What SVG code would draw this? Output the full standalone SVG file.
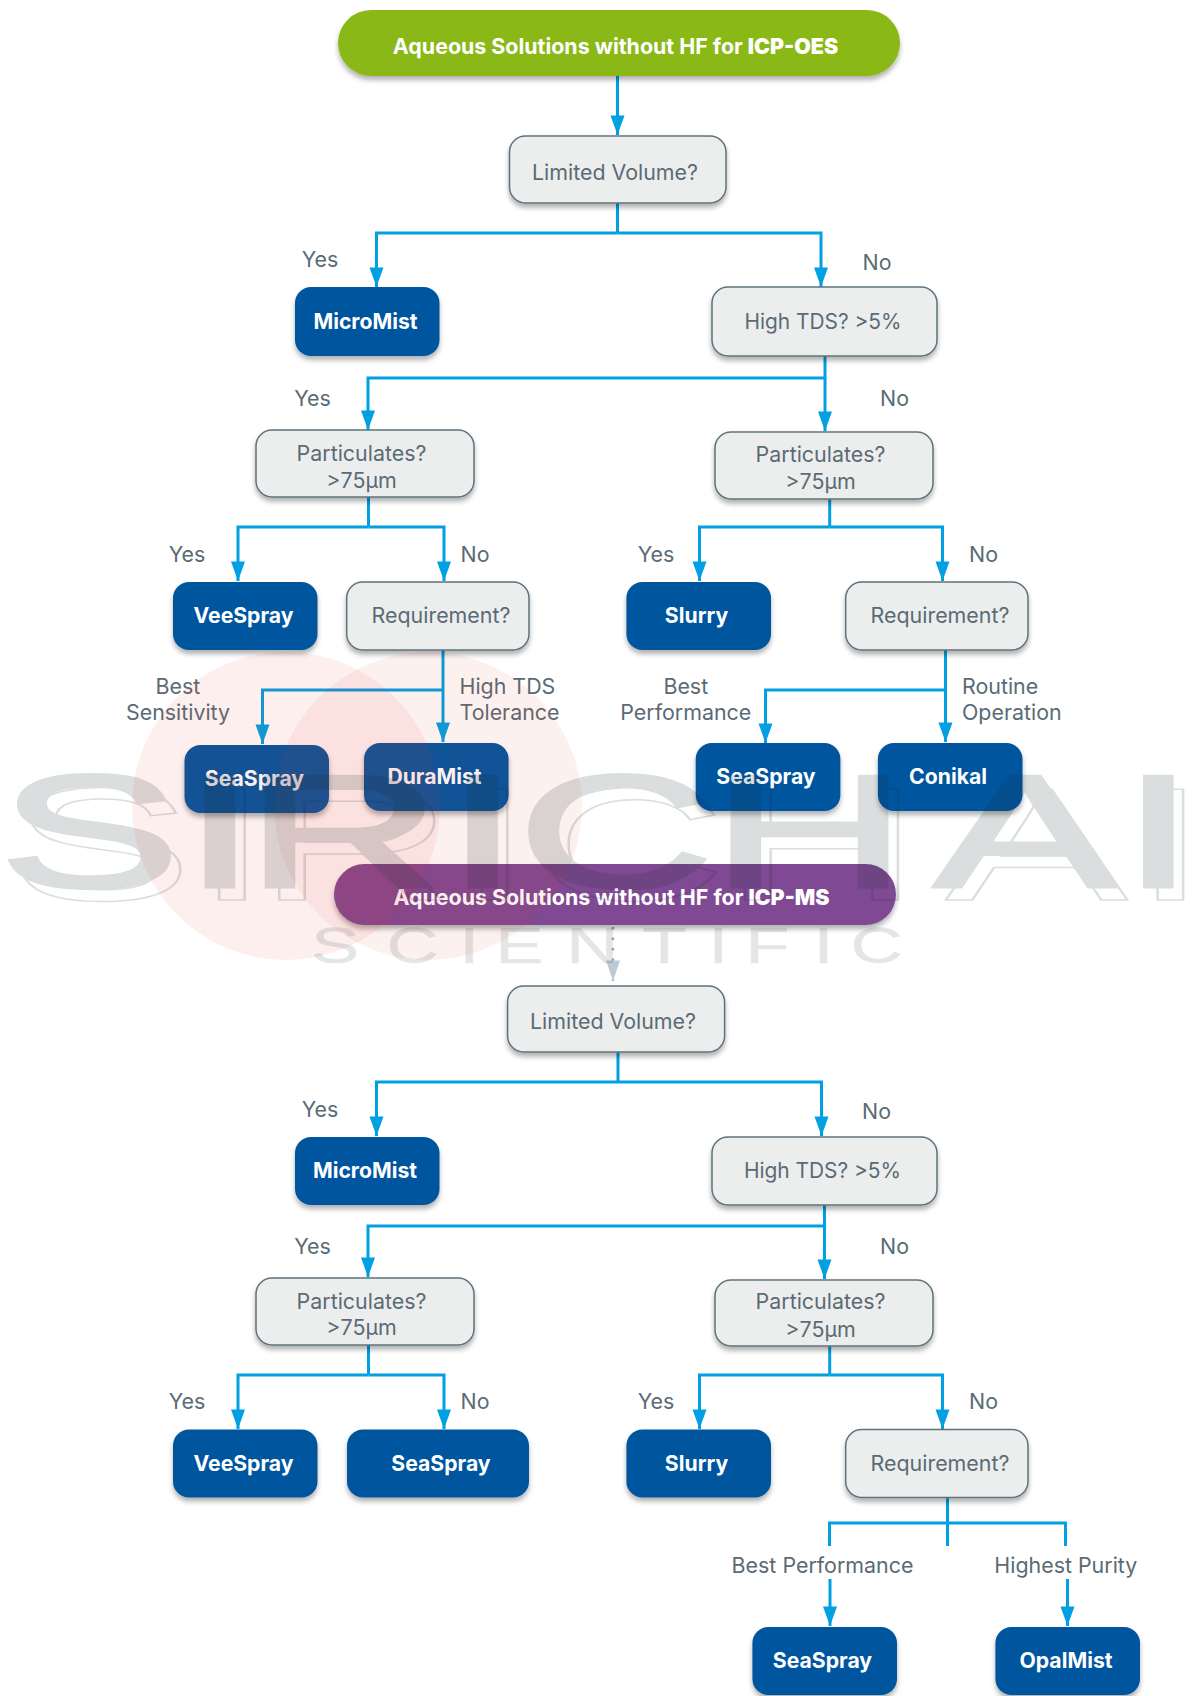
<svg xmlns="http://www.w3.org/2000/svg" xmlns:xlink="http://www.w3.org/1999/xlink" width="1192" height="1696" viewBox="0 0 1192 1696">
<style>
text{font-family:Inter,"Noto Sans","Liberation Sans",sans-serif}
.q rect{fill:#eceeee;stroke:#5f717c;stroke-width:1.5}
.p rect{fill:#00559f}
.q rect,.p rect,.pill rect{filter:url(#sh)}
.q text,.lab{font-size:21.4px;fill:#5a6b75;text-anchor:middle}
.q text.t{font-size:20.9px}
.lab.s{text-anchor:start}
.p text{font-size:21.2px;font-weight:700;fill:#fff;text-anchor:middle}
.pill text{font-size:21.4px;font-weight:650;fill:#fff;text-anchor:middle}
.pill tspan{font-weight:900}
#connectors path{fill:none;stroke:#00a0e3;stroke-width:3;marker-end:url(#ah)}
#connectors path.n{marker-end:none}
#connectors path.d{stroke:#9aa8b4;stroke-width:2.5;stroke-dasharray:2.5 8;marker-end:url(#ahg)}
.wmt{font-family:"Liberation Sans",sans-serif}
</style>
<defs>
<marker id="ah" markerUnits="userSpaceOnUse" markerWidth="14" markerHeight="18" refX="13" refY="6.5" orient="auto-start-reverse" viewBox="0 0 13 13" overflow="visible"><path d="M-5 0L13 6.5L-5 13Z" fill="#00a0e3"/></marker>
<marker id="ahg" markerUnits="userSpaceOnUse" markerWidth="14" markerHeight="18" refX="13" refY="6.5" orient="auto" viewBox="0 0 13 13" overflow="visible"><path d="M-6 0L13 6.5L-6 13Z" fill="#bccad6"/></marker>
<filter id="sh" x="-10%" y="-10%" width="120%" height="130%"><feDropShadow dx="0" dy="4" stdDeviation="2.5" flood-color="#000" flood-opacity=".3"/></filter>
<text id="wm" class="wmt" font-size="161" transform="translate(0,887) scale(1.7,1)" x="-1 107 144 261.500 304 418 549 659">SIRICHAI</text>
</defs>
<rect width="1192" height="1696" fill="#fff"/>
<g id="connectors">
<path d="M617.5 76V135"/>
<path class="n" d="M617.5 203V233"/>
<path d="M617.5 233H376.5V287"/>
<path d="M617.5 233H821V287"/>
<path d="M825 356V378H368V430"/>
<path d="M825 378V431"/>
<path class="n" d="M368.5 497V527"/>
<path d="M368.5 527H238V581"/>
<path d="M368.5 527H444V581"/>
<path class="n" d="M829.7 499V527"/>
<path d="M829.7 527H699.5V581"/>
<path d="M829.7 527H942.5V581"/>
<path d="M443 650V742"/>
<path d="M443 690H262.5V744"/>
<path d="M945.5 650V742"/>
<path d="M945.5 690H765.5V743"/>
<path class="d" d="M613 927V981"/>
<path class="n" d="M618 1052V1082"/>
<path d="M618 1082H376.5V1136"/>
<path d="M618 1082H821.5V1136"/>
<path d="M824.5 1205V1226H368V1277"/>
<path d="M824.5 1226V1279"/>
<path class="n" d="M368.5 1345V1375"/>
<path d="M368.5 1375H238V1429"/>
<path d="M368.5 1375H444V1429"/>
<path class="n" d="M829.7 1346V1375"/>
<path d="M829.7 1375H699.5V1429"/>
<path d="M829.7 1375H942.5V1429"/>
<path class="n" d="M947.5 1498V1546"/>
<path class="n" d="M829.5 1546V1523H1065.5V1546"/>
<path d="M830 1579V1626"/>
<path d="M1067.5 1579V1626"/>
</g>
<g id="n-oes" class="pill"><rect x="338" y="10" width="562" height="66" rx="33" fill="#8ab818"/><text x="615.5" y="53.5">Aqueous Solutions without HF for <tspan>ICP-OES</tspan></text></g>
<g id="n-lv1" class="q"><rect x="509.5" y="136" width="216.5" height="67" rx="16"/><text x="615" y="180">Limited Volume?</text></g>
<g id="n-mm1" class="p"><rect x="295" y="287" width="144.500" height="69" rx="16"/><text x="365.500" y="329">MicroMist</text></g>
<g id="n-tds1" class="q"><rect x="712" y="287" width="225" height="69" rx="16"/><text class="t" x="823" y="329">High TDS? &gt;5%</text></g>
<g id="n-pa1" class="q"><rect x="256" y="430" width="218" height="67" rx="16"/><text x="361.500" y="461">Particulates?</text><text x="361.500" y="488">&gt;75µm</text></g>
<g id="n-pa2" class="q"><rect x="715" y="432" width="218" height="67" rx="16"/><text x="820.500" y="462">Particulates?</text><text x="820.500" y="489">&gt;75µm</text></g>
<g id="n-vee1" class="p"><rect x="173" y="582" width="144.500" height="68" rx="16"/><text x="243.500" y="623">VeeSpray</text></g>
<g id="n-req1" class="q"><rect x="346.700" y="582" width="182.300" height="68" rx="16"/><text x="441" y="623">Requirement?</text></g>
<g id="n-sl1" class="p"><rect x="626.400" y="582" width="144.600" height="68" rx="16"/><text x="696.500" y="623">Slurry</text></g>
<g id="n-req2" class="q"><rect x="845.700" y="582" width="182.300" height="68" rx="16"/><text x="940" y="623">Requirement?</text></g>
<g id="n-sea1" class="p"><rect x="184.500" y="745" width="144.500" height="68" rx="16"/><text x="254.500" y="786">SeaSpray</text></g>
<g id="n-dura" class="p"><rect x="364" y="743" width="144.600" height="68" rx="16"/><text x="434.500" y="784">DuraMist</text></g>
<g id="n-sea2" class="p"><rect x="695.700" y="743" width="144.700" height="68" rx="16"/><text x="766" y="784">SeaSpray</text></g>
<g id="n-con" class="p"><rect x="877.900" y="743" width="144.600" height="68" rx="16"/><text x="948" y="784">Conikal</text></g>
<g id="n-ms" class="pill"><rect x="334" y="864" width="562" height="61" rx="30.500" fill="#7f4a93"/><text x="611.500" y="905">Aqueous Solutions without HF for <tspan>ICP-MS</tspan></text></g>
<g id="n-lv2" class="q"><rect x="507.600" y="986" width="217" height="66" rx="16"/><text x="613" y="1028.500">Limited Volume?</text></g>
<g id="n-mm2" class="p"><rect x="295" y="1137" width="144.500" height="68" rx="16"/><text x="365" y="1178">MicroMist</text></g>
<g id="n-tds2" class="q"><rect x="712" y="1137" width="225" height="68" rx="16"/><text class="t" x="822.500" y="1178">High TDS? &gt;5%</text></g>
<g id="n-pa3" class="q"><rect x="256" y="1278" width="218" height="67" rx="16"/><text x="361.500" y="1308.500">Particulates?</text><text x="361.500" y="1335">&gt;75µm</text></g>
<g id="n-pa4" class="q"><rect x="715" y="1280" width="218" height="66" rx="16"/><text x="820.500" y="1309">Particulates?</text><text x="820.500" y="1336.500">&gt;75µm</text></g>
<g id="n-vee2" class="p"><rect x="173" y="1429.500" width="144.500" height="68" rx="16"/><text x="243.500" y="1471">VeeSpray</text></g>
<g id="n-sea3" class="p"><rect x="347" y="1429.500" width="182" height="68" rx="16"/><text x="441" y="1471">SeaSpray</text></g>
<g id="n-sl2" class="p"><rect x="626.400" y="1429.500" width="144.600" height="68" rx="16"/><text x="696.500" y="1471">Slurry</text></g>
<g id="n-req3" class="q"><rect x="845.700" y="1429.500" width="182.300" height="68" rx="16"/><text x="940" y="1471">Requirement?</text></g>
<g id="n-sea4" class="p"><rect x="752.400" y="1627" width="144.600" height="68" rx="16"/><text x="822.500" y="1668">SeaSpray</text></g>
<g id="n-opal" class="p"><rect x="995.400" y="1627" width="144.600" height="68" rx="16"/><text x="1066" y="1668">OpalMist</text></g>
<g id="labels">
<text class="lab" x="320" y="267">Yes</text><text class="lab" x="877" y="270">No</text>
<text class="lab" x="312.500" y="405.500">Yes</text><text class="lab" x="894.500" y="405.500">No</text>
<text class="lab" x="187" y="562">Yes</text><text class="lab" x="475" y="562">No</text>
<text class="lab" x="656" y="562">Yes</text><text class="lab" x="983.500" y="562">No</text>
<text class="lab" x="178" y="694">Best</text><text class="lab" x="178" y="720">Sensitivity</text>
<text class="lab s" x="459.500" y="694">High TDS</text><text class="lab s" x="459.500" y="720">Tolerance</text>
<text class="lab" x="685.800" y="694">Best</text><text class="lab" x="685.800" y="720">Performance</text>
<text class="lab s" x="962" y="694">Routine</text><text class="lab s" x="962" y="720">Operation</text>
<text class="lab" x="320" y="1117">Yes</text><text class="lab" x="876.500" y="1119">No</text>
<text class="lab" x="312.500" y="1254">Yes</text><text class="lab" x="894.500" y="1254">No</text>
<text class="lab" x="187" y="1409">Yes</text><text class="lab" x="475" y="1409">No</text>
<text class="lab" x="656" y="1409">Yes</text><text class="lab" x="983.500" y="1409">No</text>
<text class="lab" x="822.500" y="1573">Best Performance</text><text class="lab" x="1065.800" y="1573">Highest Purity</text>
</g>
<g id="watermark">
<circle cx="286" cy="806" r="154" fill="#e8352b" opacity=".08"/>
<circle cx="428" cy="806" r="154" fill="#e8352b" opacity=".07"/>
<g opacity=".16" fill="#1c2c2c">
<use href="#wm" style="fill:none;stroke:#1c2c2c;stroke-width:1.5" transform="translate(12,13)"/>
<use href="#wm" style="stroke:#1c2c2c;stroke-width:3"/>
<text class="wmt" font-size="50" stroke="#1c2c2c" stroke-width=".5" transform="translate(0,963) scale(1.45,1)" x="214.500 266.500 316.800 341.500 390.500 443 488.500 514 561 586.500" opacity=".75">SCIENTIFIC</text>
</g>
</g>
</svg>
